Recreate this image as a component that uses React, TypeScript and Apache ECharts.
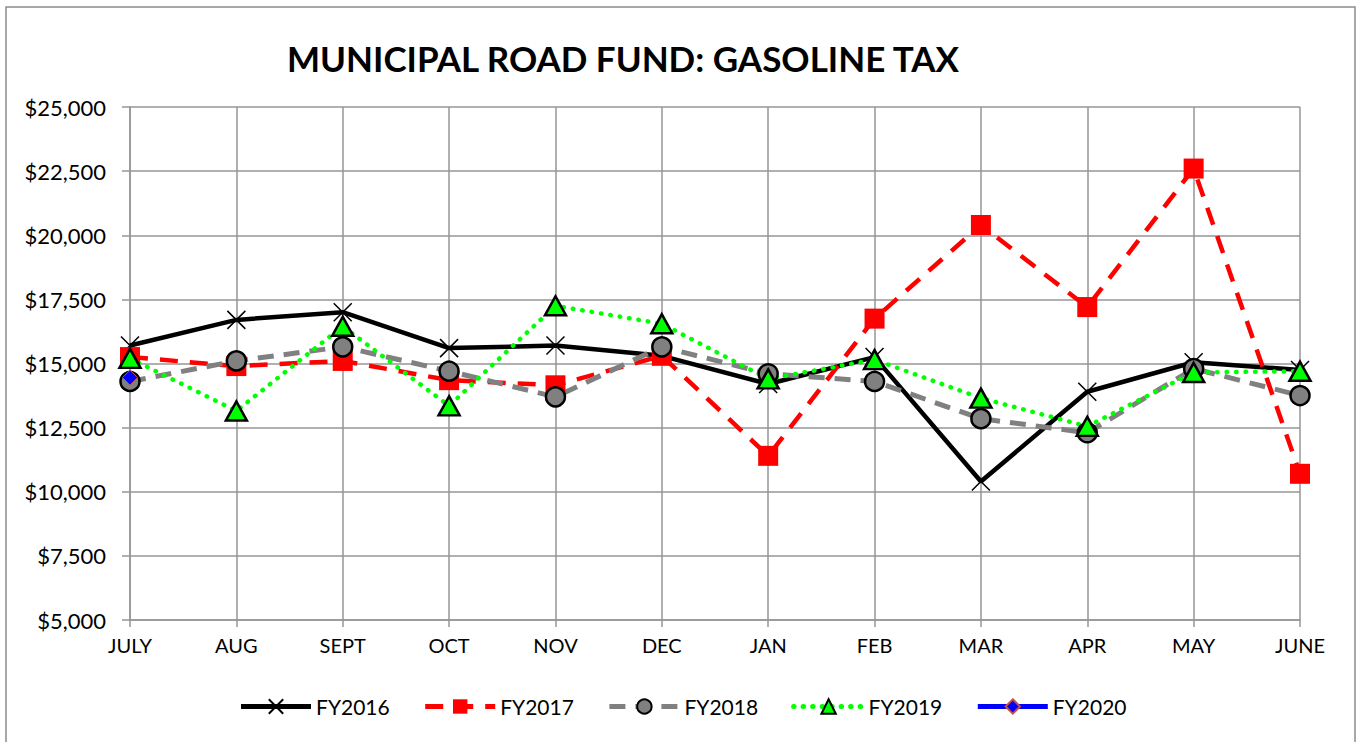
import React, { useEffect, useRef } from "react";
import * as echarts from "echarts";

const months = ["JULY", "AUG", "SEPT", "OCT", "NOV", "DEC", "JAN", "FEB", "MAR", "APR", "MAY", "JUNE"];
const fy2016 = [15700, 16700, 17000, 15600, 15700, 15300, 14200, 15250, 10400, 13900, 15050, 14750];
const fy2017 = [15250, 14900, 15100, 14350, 14150, 15300, 11400, 16750, 20400, 17200, 22600, 10700];
const fy2018 = [14300, 15100, 15650, 14700, 13700, 15650, 14600, 14300, 12850, 12300, 14800, 13750];
const fy2019 = [15200, 13150, 16450, 13350, 17250, 16550, 14400, 15150, 13650, 12550, 14650, 14700];
const fy2020 = [14450, null, null, null, null, null, null, null, null, null, null, null];

const FONT = "Lato";

export default function App() {
  const ref = useRef<HTMLDivElement>(null);
  useEffect(() => {
    if (!ref.current) return;
    const chart = echarts.init(ref.current, null, { renderer: "svg" });
    chart.setOption({
      animation: false,
      backgroundColor: "#ffffff",
      textStyle: { fontFamily: FONT, color: "#000" },
      title: {
        text: "MUNICIPAL ROAD FUND: GASOLINE TAX",
        left: 618,
        textAlign: "center",
        top: 35,
        textStyle: { fontFamily: FONT, fontWeight: "bold", fontSize: 35, color: "#000" },
      },
      graphic: [
        {
          type: "rect",
          shape: { x: 6, y: 7, width: 1349, height: 760 },
          style: { fill: "none", stroke: "#8c8c8c", lineWidth: 1.5 },
          silent: true,
        },
      ],
      grid: { left: 130, right: 65, top: 107, bottom: 122, containLabel: false },
      legend: {
        bottom: 20,
        left: "center",
        itemWidth: 70,
        itemHeight: 18,
        itemGap: 33,
        lineStyle: { width: 5 },
        textStyle: { fontFamily: FONT, fontSize: 21, color: "#000" },
        data: ["FY2016", "FY2017", "FY2018", "FY2019", "FY2020"],
      },
      xAxis: {
        type: "category",
        data: months,
        boundaryGap: false,
        axisLine: { lineStyle: { color: "#969696", width: 1.5 } },
        axisTick: { show: true, length: 7, inside: false, lineStyle: { color: "#969696", width: 1.5 } },
        axisLabel: { fontFamily: FONT, fontSize: 20, color: "#000", margin: 15 },
        splitLine: { show: true, lineStyle: { color: "#969696", width: 1.5 } },
      },
      yAxis: {
        type: "value",
        min: 5000,
        max: 25000,
        interval: 2500,
        axisLine: { show: true, lineStyle: { color: "#969696", width: 1.5 } },
        axisTick: { show: true, length: 8, lineStyle: { color: "#969696", width: 1.5 } },
        axisLabel: {
          fontFamily: FONT,
          fontSize: 22,
          color: "#000",
          margin: 24,
          formatter: (v: number) => "$" + v.toLocaleString("en-US"),
        },
        splitLine: { show: true, lineStyle: { color: "#969696", width: 1.5 } },
      },
      series: [
        {
          name: "FY2016",
          type: "line",
          data: fy2016,
          symbol: "path://M0,0L10,10M10,0L0,10",
          symbolSize: 18,
          showAllSymbol: true,
          lineStyle: { color: "#000", width: 4.5 },
          itemStyle: { color: "#000", borderColor: "#000", borderWidth: 1.5 },
        },
        {
          name: "FY2017",
          type: "line",
          data: fy2017,
          symbol: "rect",
          symbolSize: 20,
          lineStyle: { color: "#ff0000", width: 4.5, type: [18, 12] },
          itemStyle: { color: "#ff0000", borderColor: "#ff0000", borderWidth: 0 },
        },
        {
          name: "FY2018",
          type: "line",
          data: fy2018,
          symbol: "circle",
          symbolSize: 19,
          lineStyle: { color: "#808080", width: 5, type: [16, 10] },
          itemStyle: { color: "#808080", borderColor: "#000", borderWidth: 2.5 },
        },
        {
          name: "FY2019",
          type: "line",
          data: fy2019,
          symbol: "triangle",
          symbolSize: [21, 19],
          lineStyle: { color: "#00ff00", width: 4.5, type: [0.5, 9], cap: "round" },
          itemStyle: { color: "#00ff00", borderColor: "#000", borderWidth: 2.5 },
        },
        {
          name: "FY2020",
          type: "line",
          data: fy2020,
          symbol: "diamond",
          symbolSize: 15,
          lineStyle: { color: "#0000ff", width: 4.5 },
          itemStyle: { color: "#0000ff", borderColor: "#c0504d", borderWidth: 1 },
        },
      ],
    });
    return () => chart.dispose();
  }, []);
  return (
    <div
      ref={ref}
      style={{ position: "fixed", left: 0, top: 0, width: 1365, height: 742 }}
    />
  );
}
